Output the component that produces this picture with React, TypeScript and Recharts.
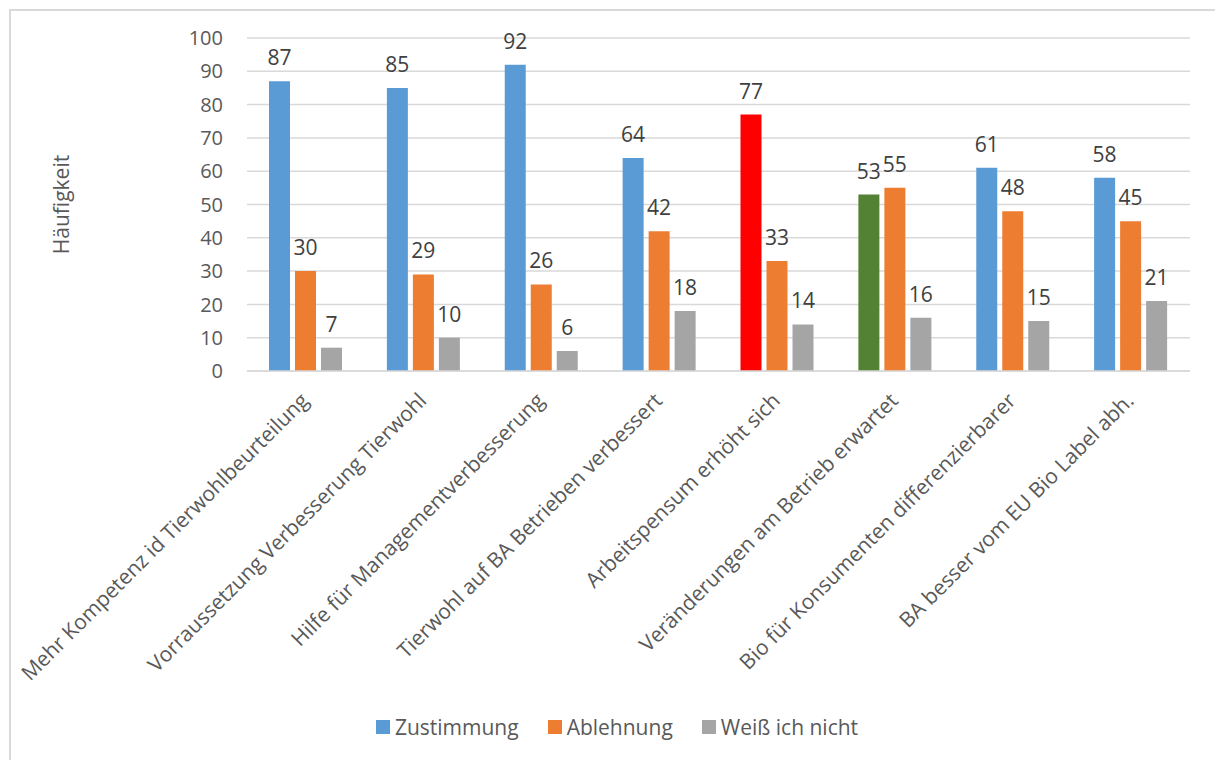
import React from "react";
import {
  BarChart,
  Bar,
  XAxis,
  YAxis,
  CartesianGrid,
  Legend,
  LabelList,
  Cell
} from "recharts";

// Categories and answer counts
const categories = [
  "Mehr Kompetenz id Tierwohlbeurteilung",
  "Vorraussetzung Verbesserung Tierwohl",
  "Hilfe für Managementverbesserung",
  "Tierwohl auf BA Betrieben verbessert",
  "Arbeitspensum erhöht sich",
  "Veränderungen am Betrieb erwartet",
  "Bio für Konsumenten differenzierbarer",
  "BA besser vom EU Bio Label abh."
];
const zustimmung = [87, 85, 92, 64, 77, 53, 61, 58];
const ablehnung = [30, 29, 26, 42, 33, 55, 48, 45];
const weissNicht = [7, 10, 6, 18, 14, 16, 15, 21];
const yTicks = [0, 10, 20, 30, 40, 50, 60, 70, 80, 90, 100];

const COLORS = {
  blue: "#5B9BD5",
  orange: "#ED7D31",
  gray: "#A5A5A5",
  red: "#FF0000",
  green: "#548235",
  grid: "#D9D9D9",
  text: "#595959",
  value: "#404040"
};

// two highlighted bars in the first series
const zustimmungColors = zustimmung.map((_, i) =>
  i === 4 ? COLORS.red : i === 5 ? COLORS.green : COLORS.blue
);

const legendItems = [
  { label: "Zustimmung", color: COLORS.blue },
  { label: "Ablehnung", color: COLORS.orange },
  { label: "Weiß ich nicht", color: COLORS.gray }
];

const data = categories.map((name, i) => ({
  name,
  zustimmung: zustimmung[i],
  ablehnung: ablehnung[i],
  weissNicht: weissNicht[i]
}));

const FONT = "'Open Sans', sans-serif";

const CategoryTick = (props: any) => {
  const { x, y, payload } = props;
  const tx = x + 4;
  const ty = y + 31;
  return (
    <text
      x={tx}
      y={ty}
      transform={`rotate(-45, ${tx}, ${ty})`}
      textAnchor="end"
      fill={COLORS.text}
      fontSize={21}
      fontFamily={FONT}
    >
      {payload.value}
    </text>
  );
};

const renderLegend = () => (
  <div
    style={{
      display: "flex",
      justifyContent: "center",
      alignItems: "center",
      gap: 29,
      height: 30,
      paddingLeft: 24,
      fontFamily: FONT,
      fontSize: 21,
      color: COLORS.text
    }}
  >
    {legendItems.map(item => (
      <span key={item.label} style={{ display: "flex", alignItems: "center" }}>
        <span
          style={{
            display: "inline-block",
            width: 14,
            height: 14,
            background: item.color,
            marginRight: 5
          }}
        />
        {item.label}
      </span>
    ))}
  </div>
);

const renderYLabel = (props: any) => {
  const vb = props.viewBox || { x: 20, y: 38, height: 333 };
  const cx = vb.x + 41;
  const cy = vb.y + vb.height / 2;
  return (
    <text
      x={cx}
      y={cy}
      transform={`rotate(-90, ${cx}, ${cy})`}
      textAnchor="middle"
      dominantBaseline="central"
      fill={COLORS.text}
      fontSize={21}
      fontFamily={FONT}
    >
      Häufigkeit
    </text>
  );
};

export default function App() {
  return (
    <div style={{ position: "absolute", left: 0, top: 0, width: 1215, height: 760, overflow: "hidden", background: "#fff" }}>
      <div
        style={{
          position: "absolute",
          left: 9,
          top: 9,
          width: 1206,
          height: 751,
          boxSizing: "border-box",
          borderTop: `2px solid ${COLORS.grid}`,
          borderLeft: `2px solid ${COLORS.grid}`
        }}
      />
      <div style={{ position: "absolute", left: 0, top: 0 }}>
        <BarChart
          width={1215}
          height={760}
          data={data}
          margin={{ top: 38, right: 25, bottom: 18, left: 20 }}
          barSize={21}
          barGap={5}
          style={{ fontFamily: FONT }}
        >
          <CartesianGrid vertical={false} stroke={COLORS.grid} strokeWidth={1.5} />
          <XAxis
            dataKey="name"
            interval={0}
            height={341}
            tickLine={false}
            tickSize={0}
            tickMargin={0}
            axisLine={{ stroke: COLORS.grid, strokeWidth: 1.5 }}
            tick={<CategoryTick />}
          />
          <YAxis
            width={227}
            domain={[0, 100]}
            ticks={yTicks}
            interval={0}
            axisLine={false}
            tickLine={false}
            tickSize={0}
            tickMargin={24}
            tick={{ fill: COLORS.text, fontSize: 20, fontFamily: FONT }}
            label={renderYLabel}
          />
          <Legend verticalAlign="bottom" content={renderLegend} />
          <Bar dataKey="zustimmung" name="Zustimmung" fill={COLORS.blue} isAnimationActive={false}>
            {zustimmungColors.map((c, i) => (
              <Cell key={`z-${i}`} fill={c} />
            ))}
            <LabelList dataKey="zustimmung" position="top" offset={16} fill={COLORS.value} fontSize={21} fontFamily={FONT} />
          </Bar>
          <Bar dataKey="ablehnung" name="Ablehnung" fill={COLORS.orange} isAnimationActive={false}>
            <LabelList dataKey="ablehnung" position="top" offset={16} fill={COLORS.value} fontSize={21} fontFamily={FONT} />
          </Bar>
          <Bar dataKey="weissNicht" name="Weiß ich nicht" fill={COLORS.gray} isAnimationActive={false}>
            <LabelList dataKey="weissNicht" position="top" offset={16} fill={COLORS.value} fontSize={21} fontFamily={FONT} />
          </Bar>
        </BarChart>
      </div>
    </div>
  );
}
